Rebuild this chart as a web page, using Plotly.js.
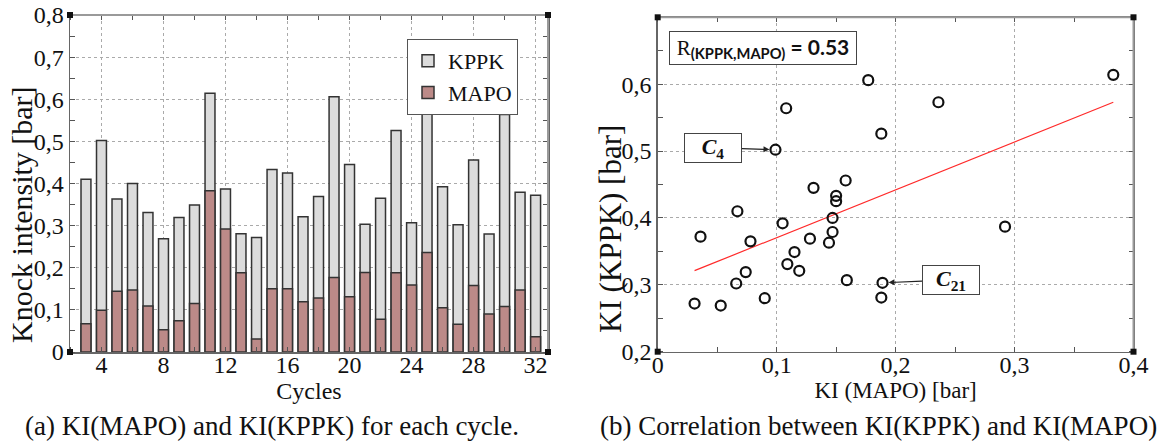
<!DOCTYPE html>
<html><head><meta charset="utf-8">
<script src="https://cdn.plot.ly/plotly-3.0.1.min.js"></script>
<style>html,body{margin:0;padding:0;background:#fff}#chart{width:1161px;height:441px}</style>
</head><body><div id="chart"></div>
<script>
// ---- data ----
const cycles = [3,4,5,6,7,8,9,10,11,12,13,14,15,16,17,18,19,20,21,22,23,24,25,26,27,28,29,30,31,32];
const kppk = [0.410,0.502,0.363,0.400,0.331,0.269,0.319,0.349,0.614,0.387,0.281,0.272,0.433,0.425,0.321,0.369,0.606,0.445,0.303,0.365,0.526,0.307,0.573,0.392,0.302,0.456,0.280,0.564,0.379,0.372];
const mapo = [0.067,0.099,0.144,0.147,0.109,0.053,0.074,0.115,0.383,0.292,0.188,0.031,0.150,0.150,0.119,0.128,0.177,0.131,0.189,0.078,0.188,0.159,0.236,0.105,0.066,0.158,0.090,0.108,0.147,0.036];
const seriesNames = ['KPPK','MAPO'];
const leftYTicks = [0,0.1,0.2,0.3,0.4,0.5,0.6,0.7,0.8];
const leftXTicks = [4,8,12,16,20,24,28,32];
const rightXTicks = [0,0.1,0.2,0.3,0.4];
const rightYTicks = [0.2,0.3,0.4,0.5,0.6];
const corrText = '0.53';
const labelCycle4 = 4, labelCycle21 = 21;

// least-squares fit line of KPPK on MAPO
const n = mapo.length;
const mx = mapo.reduce((a,b)=>a+b,0)/n, my = kppk.reduce((a,b)=>a+b,0)/n;
let sxy=0, sxx=0;
for (let i=0;i<n;i++){ sxy += (mapo[i]-mx)*(kppk[i]-my); sxx += (mapo[i]-mx)**2; }
const slope = sxy/sxx, icpt = my - slope*mx;
const fitX = [Math.min(...mapo), Math.max(...mapo)];
const fitY = fitX.map(v => icpt + slope*v);

const W = 1161, H = 441;
const px = v => v / W, py = v => 1 - v / H;
const serif = 'Liberation Serif, DejaVu Serif, serif';
const sans = 'Lato, Open Sans, sans-serif';

const traces = [
  {type:'bar', x:cycles, y:kppk, name:seriesNames[0], width:0.64, xaxis:'x', yaxis:'y',
   marker:{color:'#dcdcdc', line:{color:'#333', width:1.5}}},
  {type:'bar', x:cycles, y:mapo, name:seriesNames[1], width:0.64, xaxis:'x', yaxis:'y',
   marker:{color:'#bc8a88', line:{color:'#333', width:1.5}}},
  {type:'scatter', mode:'lines', x:fitX, y:fitY, xaxis:'x2', yaxis:'y2', showlegend:false,
   line:{color:'#ff2a2a', width:1.2}, hoverinfo:'skip'},
  {type:'scatter', mode:'markers', x:mapo, y:kppk, xaxis:'x2', yaxis:'y2', showlegend:false,
   marker:{symbol:'circle-open', size:10, color:'#111', line:{width:2.2}}}
];

const gridStyle = {showgrid:true, gridcolor:'#aaa', gridwidth:1, griddash:'dot'};
const axisCommon = Object.assign({
  showline:true, linecolor:'#666', linewidth:1.5, mirror:'ticks', zeroline:false,
  ticks:'', tickfont:{family:serif, size:24, color:'#111'}, automargin:false
}, gridStyle);

function corners(xr, yr){
  const out = [];
  [[0,0],[0,1],[1,0],[1,1]].forEach(([a,b])=>{
    out.push({type:'rect', xref:xr, yref:yr, xsizemode:'pixel', ysizemode:'pixel',
      xanchor:a, yanchor:b, x0:-3, x1:3, y0:-3, y1:3, fillcolor:'#111', line:{width:0}, layer:'above'});
  });
  return out;
}
function lightEdges(xr, yr){
  return [
    {type:'line', xref:xr, yref:yr, x0:0, x1:1, y0:1, y1:1, line:{color:'#9a9a9a', width:2}, layer:'above'},
    {type:'line', xref:xr, yref:yr, x0:1, x1:1, y0:0, y1:1, line:{color:'#9a9a9a', width:2}, layer:'above'}
  ];
}

const boxStyle = {bordercolor:'#444', borderwidth:1, bgcolor:'#fff'};
const i4 = cycles.indexOf(labelCycle4), i21 = cycles.indexOf(labelCycle21);
const minorTick = {ticks:'inside', ticklen:5, tickcolor:'#555', showgrid:false};

const layout = {
  width:W, height:H, margin:{l:0,r:0,t:0,b:0}, paper_bgcolor:'#fff', plot_bgcolor:'#fff',
  separators:', ', barmode:'overlay', showlegend:true,
  font:{family:serif, color:'#111'},
  xaxis: Object.assign({}, axisCommon, {domain:[px(70), px(548)], range:[1.97, 32.8],
    tickvals:leftXTicks, ticklabelstandoff:-9, minor:Object.assign({dtick:2, tick0:0}, minorTick),
    title:{text:'Cycles', font:{family:serif, size:24}, standoff:0}}),
  yaxis: Object.assign({}, axisCommon, {domain:[py(352), py(15)], range:[0,0.8],
    tickvals:leftYTicks, minor:Object.assign({dtick:0.05, tick0:0}, minorTick)}),
  xaxis2: Object.assign({}, axisCommon, {anchor:'y2', domain:[px(657.7), px(1133.5)], range:[0,0.4],
    tickvals:rightXTicks, ticklabelstandoff:-9, minor:Object.assign({dtick:0.05, tick0:0}, minorTick),
    title:{text:'KI (MAPO) [bar]', font:{family:serif, size:23}, standoff:3}}),
  yaxis2: Object.assign({}, axisCommon, {anchor:'x2', domain:[py(351.7), py(17.3)], range:[0.2,0.7],
    tickvals:rightYTicks, minor:Object.assign({dtick:0.05, tick0:0.2}, minorTick)}),
  legend:{x:px(407), y:py(39), xanchor:'left', yanchor:'top', bgcolor:'#fff', bordercolor:'#555', borderwidth:1,
    font:{family:serif, size:22, color:'#111'}, tracegroupgap:0},
  shapes: [].concat(lightEdges('x domain','y domain'), lightEdges('x2 domain','y2 domain'),
                    corners('x domain','y domain'), corners('x2 domain','y2 domain')),
  annotations:[
    {xref:'paper', yref:'paper', x:px(22), y:py(215), xanchor:'center', yanchor:'middle', text:'Knock intensity [bar]', textangle:-90,
     showarrow:false, font:{family:serif, size:30, color:'#111'}},
    {xref:'paper', yref:'paper', x:px(611), y:py(229), xanchor:'center', yanchor:'middle', text:'KI (KPPK) [bar]', textangle:-90,
     showarrow:false, font:{family:serif, size:31, color:'#111'}},
    Object.assign({xref:'paper', yref:'paper', x:px(669), y:py(48), xanchor:'left', yanchor:'middle',
     text:'<span style="font-family:Liberation Serif">R</span><b><sub>(KPPK,MAPO)</sub> = ' + corrText + '</b>',
     showarrow:false, width:180, height:26, borderpad:3, font:{family:sans, size:21, color:'#111'}}, boxStyle),
    Object.assign({xref:'x2', yref:'y2', x:mapo[i4], y:kppk[i4], text:'<b><i>C</i></b><b><sub>4</sub></b>',
     showarrow:true, ax:-62, ay:-2, arrowhead:2, arrowsize:1, arrowwidth:1.2, arrowcolor:'#222', standoff:6,
     width:52, height:24, borderpad:2, font:{family:serif, size:22, color:'#111'}}, boxStyle),
    Object.assign({xref:'x2', yref:'y2', x:mapo[i21], y:kppk[i21], text:'<b><i>C</i></b><b><sub>21</sub></b>',
     showarrow:true, ax:68, ay:-3, arrowhead:2, arrowsize:1, arrowwidth:1.2, arrowcolor:'#222', standoff:6,
     width:52, height:24, borderpad:2, font:{family:serif, size:22, color:'#111'}}, boxStyle),
    {xref:'paper', yref:'paper', x:px(272), y:py(426), xanchor:'center', yanchor:'middle', text:'(a) KI(MAPO) and KI(KPPK) for each cycle.',
     showarrow:false, font:{family:serif, size:27, color:'#111'}},
    {xref:'paper', yref:'paper', x:px(878), y:py(426), xanchor:'center', yanchor:'middle', text:'(b) Correlation between KI(KPPK) and KI(MAPO)',
     showarrow:false, font:{family:serif, size:27, color:'#111'}}
  ]
};

Plotly.newPlot('chart', traces, layout, {staticPlot:true, displayModeBar:false});
</script>
</body></html>
